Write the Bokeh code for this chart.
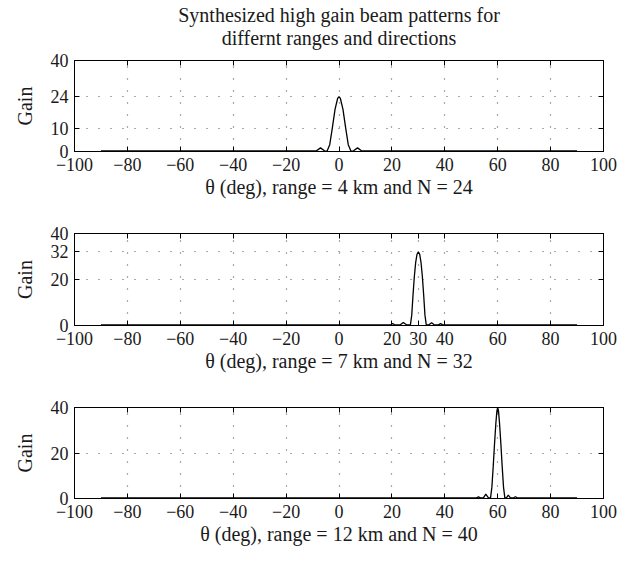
from bokeh.plotting import figure
from bokeh.models import FixedTicker, LinearAxis, Range1d, Title
from bokeh.layouts import column
from bokeh.embed import file_html
from bokeh.resources import INLINE

# ---- data ----
title_line1 = "Synthesized high gain beam patterns for"
title_line2 = "differnt ranges and directions"

theta1 = [-90, -10, -8.5, -7, -5.5, -4.5, -3.5, -2.5, -1.5, -0.5, 0, 0.5, 1.5, 2.5, 3.5, 4.5, 5.5, 7, 8.5, 10, 90]
gain1 = [0.3, 0.3, 0.3, 1.6, 0.3, 0.2, 3.0, 10.5, 18.5, 23.4, 24.0, 23.4, 18.5, 10.5, 3.0, 0.2, 0.3, 1.6, 0.3, 0.3, 0.3]

theta2 = [-90, 19.6, 20.3, 21.0, 23.2, 24.3, 25.5, 27.0, 27.5, 28.0, 28.5, 29.0, 29.5, 30.0, 30.5, 31.0, 31.5,
          32.0, 32.5, 33.0, 34.0, 35.0, 36.0, 37.6, 38.4, 39.2, 90]
gain2 = [0.3, 0.3, 0.9, 0.3, 0.3, 1.3, 0.3, 0.3, 4.5, 13.5, 21.5, 27.5, 31.0, 32.0, 31.0, 27.5, 21.5,
         13.5, 4.5, 0.3, 0.3, 1.2, 0.3, 0.3, 0.8, 0.3, 0.3]

theta3 = [-90, 52.0, 52.7, 53.5, 54.6, 55.5, 56.5, 57.3, 57.8, 58.3, 58.8, 59.3, 59.7, 60.0, 60.3, 60.7, 61.2,
          61.7, 62.2, 62.7, 63.3, 64.0, 64.8, 66.0, 66.7, 67.4, 90]
gain3 = [0.3, 0.3, 0.7, 0.3, 0.3, 1.9, 0.3, 0.3, 5.0, 14.0, 24.0, 33.0, 38.5, 40.0, 38.5, 33.0, 24.0,
         14.0, 5.0, 0.3, 0.3, 1.5, 0.3, 0.3, 0.8, 0.3, 0.3]

xticks1 = [-100, -80, -60, -40, -20, 0, 20, 40, 60, 80, 100]
xticks2 = [-100, -80, -60, -40, -20, 0, 20, 30, 40, 60, 80, 100]
xticks3 = [-100, -80, -60, -40, -20, 0, 20, 40, 60, 80, 100]
yticks1 = [0, 10, 24, 40]
yticks2 = [0, 20, 32, 40]
yticks3 = [0, 20, 40]

xlabel1 = "θ (deg), range = 4 km and N = 24"
xlabel2 = "θ (deg), range = 7 km and N = 32"
xlabel3 = "θ (deg), range = 12 km and N = 40"

FONT = "Liberation Serif"
TXT = "#1a1a1a"


def labels(ticks):
    return {t: str(t).replace("-", "\u2212") for t in ticks}


def blanks(ticks):
    return {t: "" for t in ticks}


def panel(theta, gain, xt, yt, xlabel, top, bottom, fh, titles=None):
    p = figure(frame_width=529, frame_height=fh, title=None,
               x_range=Range1d(-100, 100), y_range=Range1d(0, 40),
               output_backend="svg", toolbar_location=None,
               min_border_left=74, min_border_right=25,
               min_border_top=top, min_border_bottom=bottom,
               outline_line_color="black", outline_line_width=1,
               background_fill_color="white", border_fill_color="white")

    xa = p.xaxis[0]
    ya = p.yaxis[0]
    xa.ticker = FixedTicker(ticks=xt)
    ya.ticker = FixedTicker(ticks=yt)
    xa.major_label_overrides = labels(xt)
    ya.major_label_overrides = labels(yt)
    for a in (xa, ya):
        a.major_tick_in = 5
        a.major_tick_out = 0
        a.minor_tick_line_color = None
        a.axis_line_color = "black"
        a.major_tick_line_color = "black"
        a.major_label_text_font = FONT
        a.major_label_text_font_size = "18px"
        a.major_label_text_color = TXT
        a.axis_label_text_font = FONT
        a.axis_label_text_font_size = "20px"
        a.axis_label_text_font_style = "normal"
        a.axis_label_text_color = TXT
    xa.axis_label = xlabel
    xa.major_label_standoff = 6
    xa.axis_label_standoff = 2
    ya.axis_label = "Gain"
    ya.major_label_standoff = 6
    ya.axis_label_standoff = 12

    # box ticks on top and right (MATLAB style)
    top_ax = LinearAxis(ticker=FixedTicker(ticks=xt), major_label_overrides=blanks(xt),
                        major_tick_in=5, major_tick_out=0, minor_tick_line_color=None,
                        major_label_standoff=0, axis_line_color="black")
    right_ax = LinearAxis(ticker=FixedTicker(ticks=yt), major_label_overrides=blanks(yt),
                          major_tick_in=5, major_tick_out=0, minor_tick_line_color=None,
                          major_label_standoff=0, axis_line_color="black")
    p.add_layout(top_ax, "above")
    p.add_layout(right_ax, "right")

    if titles is not None:
        # first added sits nearest the frame
        for txt, so in ((titles[1], 24), (titles[0], -26)):
            t = Title(text=txt, align="center", text_font=FONT, text_font_size="20px",
                      text_font_style="normal", text_color=TXT, standoff=so)
            p.add_layout(t, "above")

    p.xgrid.ticker = FixedTicker(ticks=xt)
    p.ygrid.ticker = FixedTicker(ticks=yt)
    for g in (p.xgrid[0], p.ygrid[0]):
        g.grid_line_color = "#555555"
        g.grid_line_dash = "1 11"
        g.grid_line_width = 1.2

    p.line(theta, gain, line_color="black", line_width=1.3)
    return p


p1 = panel(theta1, gain1, xticks1, yticks1, xlabel1, 60, 62, 91, (title_line1, title_line2))
p2 = panel(theta2, gain2, xticks2, yticks2, xlabel2, 20, 62, 92)
p3 = panel(theta3, gain3, xticks3, yticks3, xlabel3, 20, 50, 91)

layout = column(p1, p2, p3)
open("out.html", "w").write(file_html(layout, INLINE))
